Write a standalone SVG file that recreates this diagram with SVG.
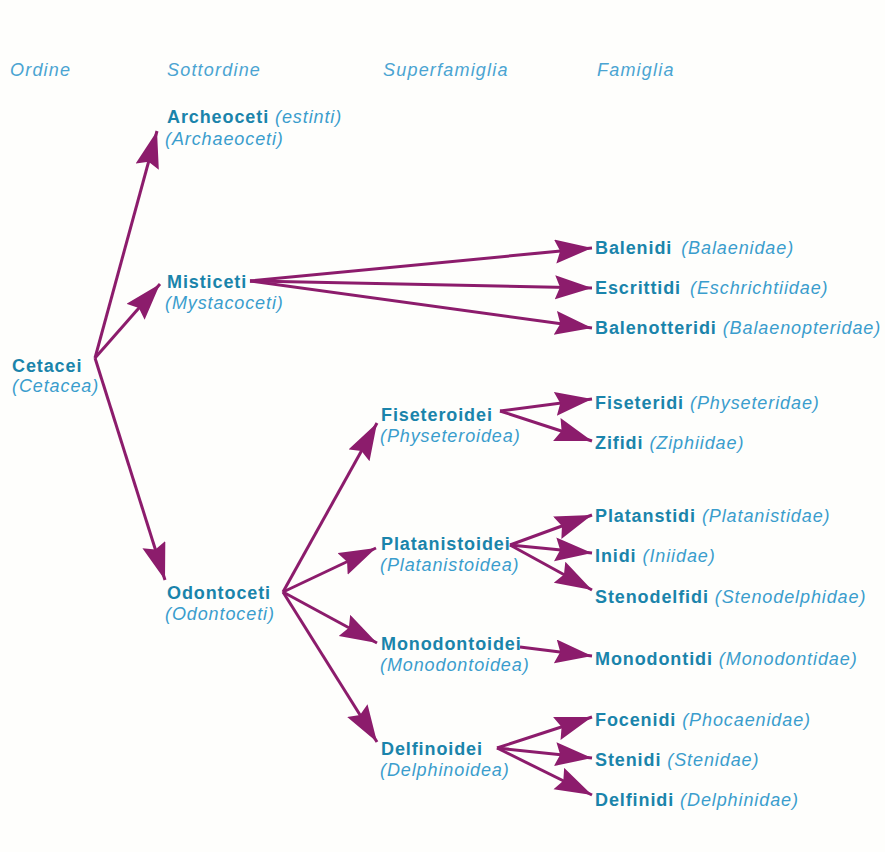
<svg xmlns="http://www.w3.org/2000/svg" width="885" height="852" viewBox="0 0 885 852">
<style>
text{font-family:"Liberation Sans",Arial,sans-serif;font-size:18px;letter-spacing:0.9px}
.h{font-style:italic;fill:#4aa4d2;letter-spacing:1.2px}
.b{font-weight:bold;fill:#1a84ab}
.i{font-style:italic;font-weight:normal;fill:#3a9dcd}
.c line{stroke:#8c1c6c;stroke-width:3;marker-end:url(#ah)}
</style>
<defs>
<marker id="ah" markerUnits="userSpaceOnUse" markerWidth="40" markerHeight="26" refX="37" refY="12" orient="auto">
<path d="M0,0 L37,12 L0,24 L5,12 Z" fill="#8c1c6c"/>
</marker>
</defs>
<rect width="885" height="852" fill="#fefefc"/>
<g id="headers">
<text class="h" x="10" y="76">Ordine</text>
<text class="h" x="167" y="76">Sottordine</text>
<text class="h" x="383" y="76">Superfamiglia</text>
<text class="h" x="597" y="76">Famiglia</text>
</g>
<g class="c" id="connectors">
<line x1="95" y1="358" x2="157" y2="131"/>
<line x1="95" y1="358" x2="160" y2="284"/>
<line x1="95" y1="358" x2="165" y2="580"/>
<line x1="250" y1="281" x2="592" y2="248"/>
<line x1="250" y1="281" x2="592" y2="288"/>
<line x1="250" y1="281" x2="592" y2="328"/>
<line x1="283" y1="592" x2="377" y2="423"/>
<line x1="283" y1="592" x2="376" y2="548"/>
<line x1="283" y1="592" x2="377" y2="643"/>
<line x1="283" y1="592" x2="377" y2="742"/>
<line x1="500" y1="411" x2="592" y2="399"/>
<line x1="500" y1="411" x2="592" y2="441"/>
<line x1="510" y1="545" x2="592" y2="515"/>
<line x1="510" y1="545" x2="592" y2="553"/>
<line x1="510" y1="545" x2="592" y2="590"/>
<line x1="520" y1="647" x2="592" y2="656"/>
<line x1="497" y1="748" x2="592" y2="717"/>
<line x1="497" y1="748" x2="592" y2="758"/>
<line x1="497" y1="748" x2="592" y2="795"/>
</g>
<g id="cetacei"><text class="b" x="12" y="372">Cetacei</text><text class="i" x="12" y="392">(Cetacea)</text></g>
<g id="archeoceti"><text class="b" x="167" y="123">Archeoceti<tspan class="i" dx="6">(estinti)</tspan></text><text class="i" x="165" y="145">(Archaeoceti)</text></g>
<g id="misticeti"><text class="b" x="167" y="288">Misticeti</text><text class="i" x="165" y="309">(Mystacoceti)</text></g>
<g id="odontoceti"><text class="b" x="167" y="599">Odontoceti</text><text class="i" x="165" y="620">(Odontoceti)</text></g>
<g id="fiseteroidei"><text class="b" x="381" y="421">Fiseteroidei</text><text class="i" x="380" y="442">(Physeteroidea)</text></g>
<g id="platanistoidei"><text class="b" x="381" y="550">Platanistoidei</text><text class="i" x="380" y="571">(Platanistoidea)</text></g>
<g id="monodontoidei"><text class="b" x="381" y="650">Monodontoidei</text><text class="i" x="380" y="671">(Monodontoidea)</text></g>
<g id="delfinoidei"><text class="b" x="381" y="755">Delfinoidei</text><text class="i" x="380" y="776">(Delphinoidea)</text></g>
<g id="balenidi"><text class="b" x="595" y="254">Balenidi<tspan class="i" dx="9">(Balaenidae)</tspan></text></g>
<g id="escrittidi"><text class="b" x="595" y="294">Escrittidi<tspan class="i" dx="9">(Eschrichtiidae)</tspan></text></g>
<g id="balenotteridi"><text class="b" x="595" y="334">Balenotteridi<tspan class="i" dx="6">(Balaenopteridae)</tspan></text></g>
<g id="fiseteridi"><text class="b" x="595" y="409">Fiseteridi<tspan class="i" dx="6">(Physeteridae)</tspan></text></g>
<g id="zifidi"><text class="b" x="595" y="449">Zifidi<tspan class="i" dx="6">(Ziphiidae)</tspan></text></g>
<g id="platanstidi"><text class="b" x="595" y="522">Platanstidi<tspan class="i" dx="6">(Platanistidae)</tspan></text></g>
<g id="inidi"><text class="b" x="595" y="562">Inidi<tspan class="i" dx="6">(Iniidae)</tspan></text></g>
<g id="stenodelfidi"><text class="b" x="595" y="603">Stenodelfidi<tspan class="i" dx="6">(Stenodelphidae)</tspan></text></g>
<g id="monodontidi"><text class="b" x="595" y="665">Monodontidi<tspan class="i" dx="6">(Monodontidae)</tspan></text></g>
<g id="focenidi"><text class="b" x="595" y="726">Focenidi<tspan class="i" dx="6">(Phocaenidae)</tspan></text></g>
<g id="stenidi"><text class="b" x="595" y="766">Stenidi<tspan class="i" dx="6">(Stenidae)</tspan></text></g>
<g id="delfinidi"><text class="b" x="595" y="806">Delfinidi<tspan class="i" dx="6">(Delphinidae)</tspan></text></g>
</svg>
